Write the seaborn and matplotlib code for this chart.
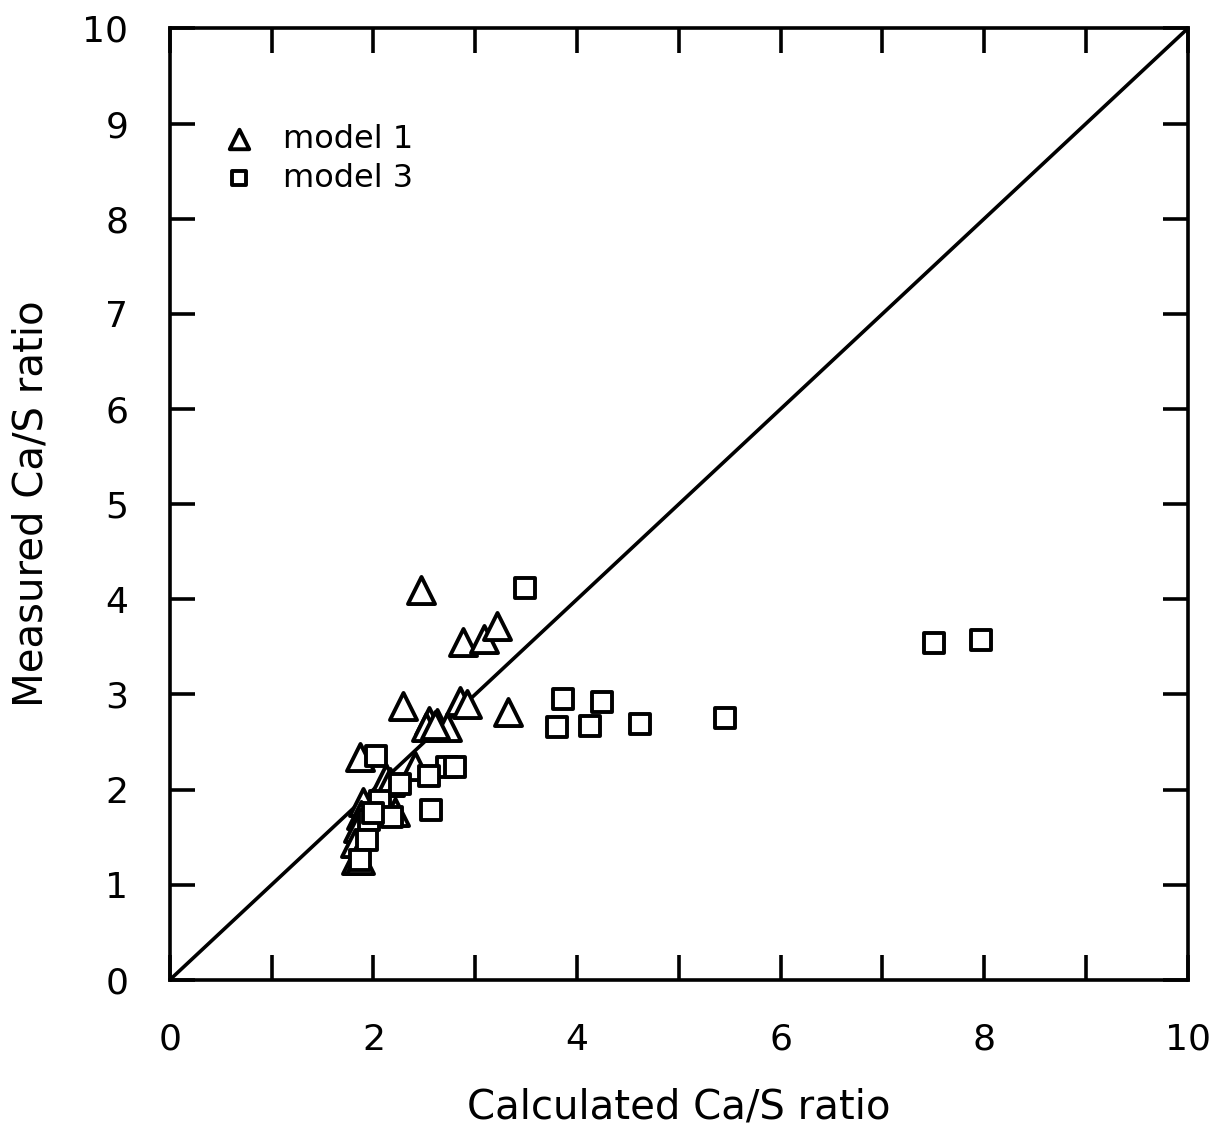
import matplotlib
matplotlib.use("Agg")
import matplotlib.pyplot as plt
import seaborn as sns
import pandas as pd

# model 1 (triangles)
m1_x = [2.47, 2.88, 3.09, 3.21, 2.85, 2.92, 2.29, 3.32, 2.55, 2.62, 2.72, 2.52,
        1.87, 2.12, 2.16, 2.41, 1.90, 1.88, 1.85, 1.82, 1.83, 1.87, 2.21, 2.12, 2.60]
m1_y = [4.10, 3.55, 3.58, 3.72, 2.93, 2.90, 2.88, 2.82, 2.72, 2.70, 2.66, 2.66,
        2.34, 2.12, 2.08, 2.25, 1.87, 1.73, 1.60, 1.44, 1.26, 1.26, 1.76, 1.78, 2.68]
# model 3 (squares)
m3_x = [3.49, 2.03, 2.72, 2.80, 2.55, 2.57, 2.06, 2.18, 1.96, 1.94, 1.87,
        3.86, 4.25, 3.80, 4.13, 4.62, 5.45, 7.51, 7.97, 2.26, 2.00]
m3_y = [4.12, 2.35, 2.24, 2.24, 2.14, 1.79, 1.88, 1.71, 1.68, 1.47, 1.26,
        2.95, 2.92, 2.66, 2.67, 2.69, 2.75, 3.54, 3.57, 2.06, 1.75]

x_ticks = list(range(0, 11))
x_labels = ["0", "", "2", "", "4", "", "6", "", "8", "", "10"]
y_ticks = list(range(0, 11))
y_labels = [str(v) for v in y_ticks]

df1 = pd.DataFrame({"calc": m1_x, "meas": m1_y})
df3 = pd.DataFrame({"calc": m3_x, "meas": m3_y})

sns.set_theme(style="ticks")
plt.rcParams["font.family"] = ["DejaVu Sans"]
plt.rcParams["text.color"] = "black"
plt.rcParams["axes.labelcolor"] = "black"

fig = plt.figure(figsize=(12.22, 11.38), dpi=100)
ax = fig.add_axes([0.139, 0.139, 0.833, 0.836])

ax.plot([0, 10], [0, 10], color="black", lw=2.6, zorder=1)

sns.scatterplot(data=df1, x="calc", y="meas", marker="^", s=380,
                facecolor="white", edgecolor="black", linewidth=2.8,
                ax=ax, zorder=3, label="model 1")
sns.scatterplot(data=df3, x="calc", y="meas", marker="s", s=200,
                facecolor="white", edgecolor="black", linewidth=2.8,
                ax=ax, zorder=3, label="model 3")

ax.set_xlim(0, 10)
ax.set_ylim(0, 10)
ax.set_xticks(x_ticks)
ax.set_xticklabels(x_labels)
ax.set_yticks(y_ticks)
ax.set_yticklabels(y_labels)
ax.tick_params(direction="in", length=18, width=2.6, labelsize=26,
               top=True, right=True, colors="black")
ax.tick_params(axis="x", pad=31)
ax.tick_params(axis="y", pad=30)
for sp in ax.spines.values():
    sp.set_linewidth(2.6)
    sp.set_color("black")

ax.set_xlabel("Calculated Ca/S ratio", fontsize=29, labelpad=22)
ax.set_ylabel("Measured Ca/S ratio", fontsize=29, labelpad=22)

leg = ax.legend(loc="upper left", bbox_to_anchor=(0.008, 0.93), frameon=False,
                fontsize=23, handletextpad=0.4, labelspacing=0.25,
                markerscale=0.72)
for t in leg.get_texts():
    t.set_color("black")

fig.savefig("out.png", dpi=100, facecolor="white")
